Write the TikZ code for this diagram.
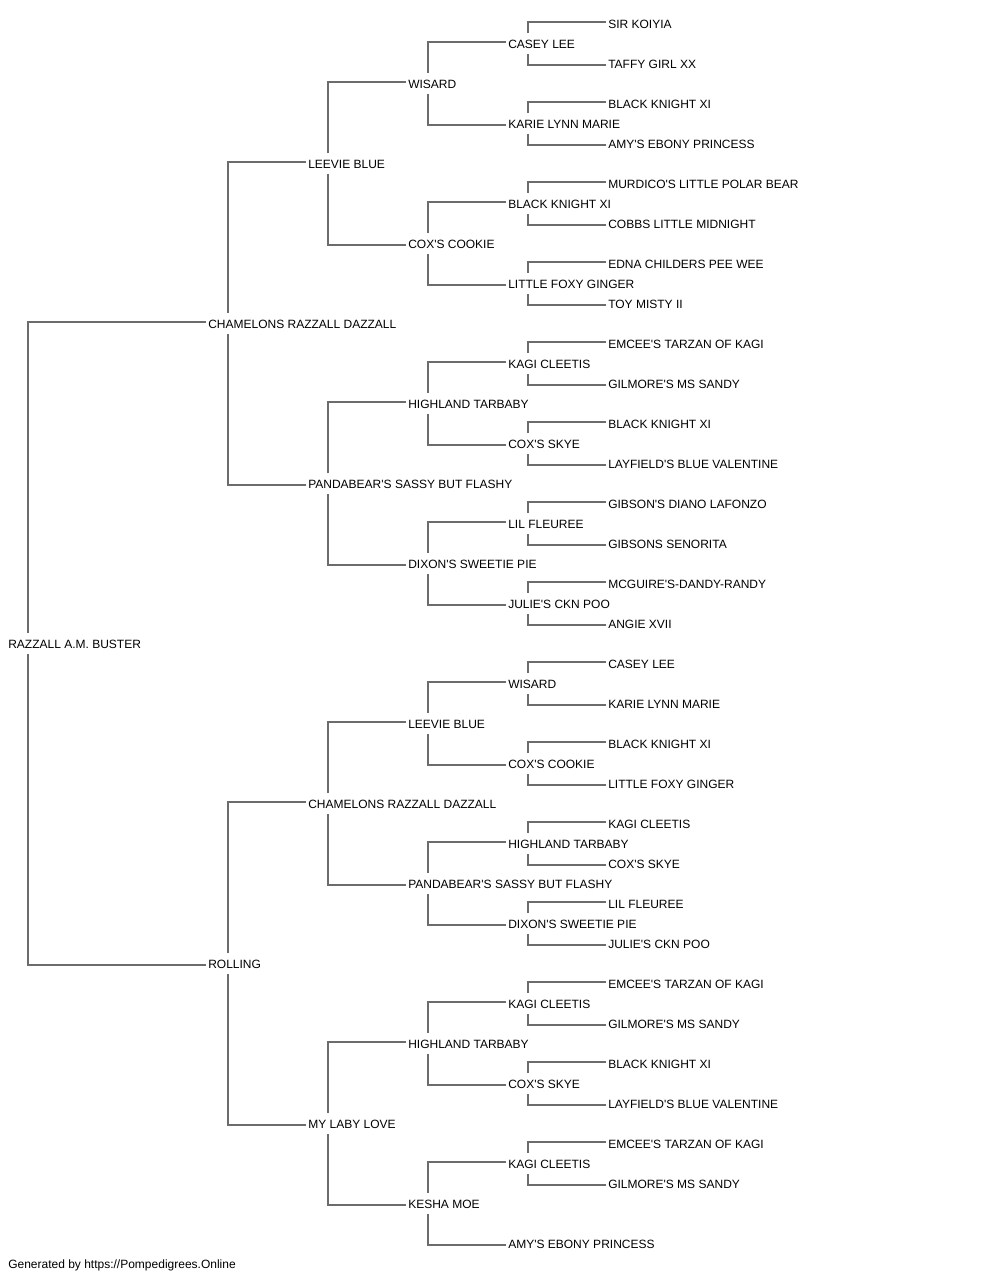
\documentclass[tikz,border=0pt]{standalone}
\usepackage{fontspec}
\setmainfont{Liberation Sans}[Ligatures=TeXOff]
\usetikzlibrary{calc}
\definecolor{lk}{RGB}{108,108,108}
\newcommand\kin[3]{%
  \draw[link] ($(#1.west)+(20,-10)$) |- ($(#2.west)+(-2,-1)$);
  \draw[link] ($(#1.west)+(20,11)$) |- ($(#3.west)+(-2,2)$);}
\begin{document}
\begin{tikzpicture}[x=0.75pt,y=-0.75pt,
  nm/.style={anchor=west,inner sep=0pt,text height=8pt,text depth=0pt,font=\fontsize{9}{11}\selectfont},
  link/.style={draw=lk,line width=1.1pt}]
\useasboundingbox (0,0) rectangle (1000,1280);
% top half
\node[nm] (o) at (8,643) {RAZZALL A.M. BUSTER};
\node[nm] (a) at (208,323) {CHAMELONS RAZZALL DAZZALL};
\node[nm] (aa) at (308,163) {LEEVIE BLUE};
\node[nm] (aaa) at (408,83) {WISARD};
\node[nm] (aaaa) at (508,43) {CASEY LEE};
\node[nm] (aaaaa) at (608,23) {SIR KOIYIA};
\node[nm] (aaaab) at (608,63) {TAFFY GIRL XX};
\node[nm] (aaab) at (508,123) {KARIE LYNN MARIE};
\node[nm] (aaaba) at (608,103) {BLACK KNIGHT XI};
\node[nm] (aaabb) at (608,143) {AMY'S EBONY PRINCESS};
\node[nm] (aab) at (408,243) {COX'S COOKIE};
\node[nm] (aaba) at (508,203) {BLACK KNIGHT XI};
\node[nm] (aabaa) at (608,183) {MURDICO'S LITTLE POLAR BEAR};
\node[nm] (aabab) at (608,223) {COBBS LITTLE MIDNIGHT};
\node[nm] (aabb) at (508,283) {LITTLE FOXY GINGER};
\node[nm] (aabba) at (608,263) {EDNA CHILDERS PEE WEE};
\node[nm] (aabbb) at (608,303) {TOY MISTY II};
\node[nm] (ab) at (308,483) {PANDABEAR'S SASSY BUT FLASHY};
\node[nm] (aba) at (408,403) {HIGHLAND TARBABY};
\node[nm] (abaa) at (508,363) {KAGI CLEETIS};
\node[nm] (abaaa) at (608,343) {EMCEE'S TARZAN OF KAGI};
\node[nm] (abaab) at (608,383) {GILMORE'S MS SANDY};
\node[nm] (abab) at (508,443) {COX'S SKYE};
\node[nm] (ababa) at (608,423) {BLACK KNIGHT XI};
\node[nm] (ababb) at (608,463) {LAYFIELD'S BLUE VALENTINE};
\node[nm] (abb) at (408,563) {DIXON'S SWEETIE PIE};
\node[nm] (abba) at (508,523) {LIL FLEUREE};
\node[nm] (abbaa) at (608,503) {GIBSON'S DIANO LAFONZO};
\node[nm] (abbab) at (608,543) {GIBSONS SENORITA};
\node[nm] (abbb) at (508,603) {JULIE'S CKN POO};
\node[nm] (abbba) at (608,583) {MCGUIRE'S-DANDY-RANDY};
\node[nm] (abbbb) at (608,623) {ANGIE XVII};
% bottom half
\node[nm] (b) at (208,963) {ROLLING};
\node[nm] (ba) at (308,803) {CHAMELONS RAZZALL DAZZALL};
\node[nm] (baa) at (408,723) {LEEVIE BLUE};
\node[nm] (baaa) at (508,683) {WISARD};
\node[nm] (baaaa) at (608,663) {CASEY LEE};
\node[nm] (baaab) at (608,703) {KARIE LYNN MARIE};
\node[nm] (baab) at (508,763) {COX'S COOKIE};
\node[nm] (baaba) at (608,743) {BLACK KNIGHT XI};
\node[nm] (baabb) at (608,783) {LITTLE FOXY GINGER};
\node[nm] (bab) at (408,883) {PANDABEAR'S SASSY BUT FLASHY};
\node[nm] (baba) at (508,843) {HIGHLAND TARBABY};
\node[nm] (babaa) at (608,823) {KAGI CLEETIS};
\node[nm] (babab) at (608,863) {COX'S SKYE};
\node[nm] (babb) at (508,923) {DIXON'S SWEETIE PIE};
\node[nm] (babba) at (608,903) {LIL FLEUREE};
\node[nm] (babbb) at (608,943) {JULIE'S CKN POO};
\node[nm] (bb) at (308,1123) {MY LABY LOVE};
\node[nm] (bba) at (408,1043) {HIGHLAND TARBABY};
\node[nm] (bbaa) at (508,1003) {KAGI CLEETIS};
\node[nm] (bbaaa) at (608,983) {EMCEE'S TARZAN OF KAGI};
\node[nm] (bbaab) at (608,1023) {GILMORE'S MS SANDY};
\node[nm] (bbab) at (508,1083) {COX'S SKYE};
\node[nm] (bbaba) at (608,1063) {BLACK KNIGHT XI};
\node[nm] (bbabb) at (608,1103) {LAYFIELD'S BLUE VALENTINE};
\node[nm] (bbb) at (408,1203) {KESHA MOE};
\node[nm] (bbba) at (508,1163) {KAGI CLEETIS};
\node[nm] (bbbaa) at (608,1143) {EMCEE'S TARZAN OF KAGI};
\node[nm] (bbbab) at (608,1183) {GILMORE'S MS SANDY};
\node[nm] (bbbb) at (508,1243) {AMY'S EBONY PRINCESS};
\node[nm] (foot) at (8,1263) {Generated by https://Pompedigrees.Online};
% connectors
\kin{o}{a}{b}
\kin{a}{aa}{ab}
\kin{aa}{aaa}{aab}
\kin{aaa}{aaaa}{aaab}
\kin{aaaa}{aaaaa}{aaaab}
\kin{aaab}{aaaba}{aaabb}
\kin{aab}{aaba}{aabb}
\kin{aaba}{aabaa}{aabab}
\kin{aabb}{aabba}{aabbb}
\kin{ab}{aba}{abb}
\kin{aba}{abaa}{abab}
\kin{abaa}{abaaa}{abaab}
\kin{abab}{ababa}{ababb}
\kin{abb}{abba}{abbb}
\kin{abba}{abbaa}{abbab}
\kin{abbb}{abbba}{abbbb}
\kin{b}{ba}{bb}
\kin{ba}{baa}{bab}
\kin{baa}{baaa}{baab}
\kin{baaa}{baaaa}{baaab}
\kin{baab}{baaba}{baabb}
\kin{bab}{baba}{babb}
\kin{baba}{babaa}{babab}
\kin{babb}{babba}{babbb}
\kin{bb}{bba}{bbb}
\kin{bba}{bbaa}{bbab}
\kin{bbaa}{bbaaa}{bbaab}
\kin{bbab}{bbaba}{bbabb}
\kin{bbb}{bbba}{bbbb}
\kin{bbba}{bbbaa}{bbbab}
\end{tikzpicture}
\end{document}
